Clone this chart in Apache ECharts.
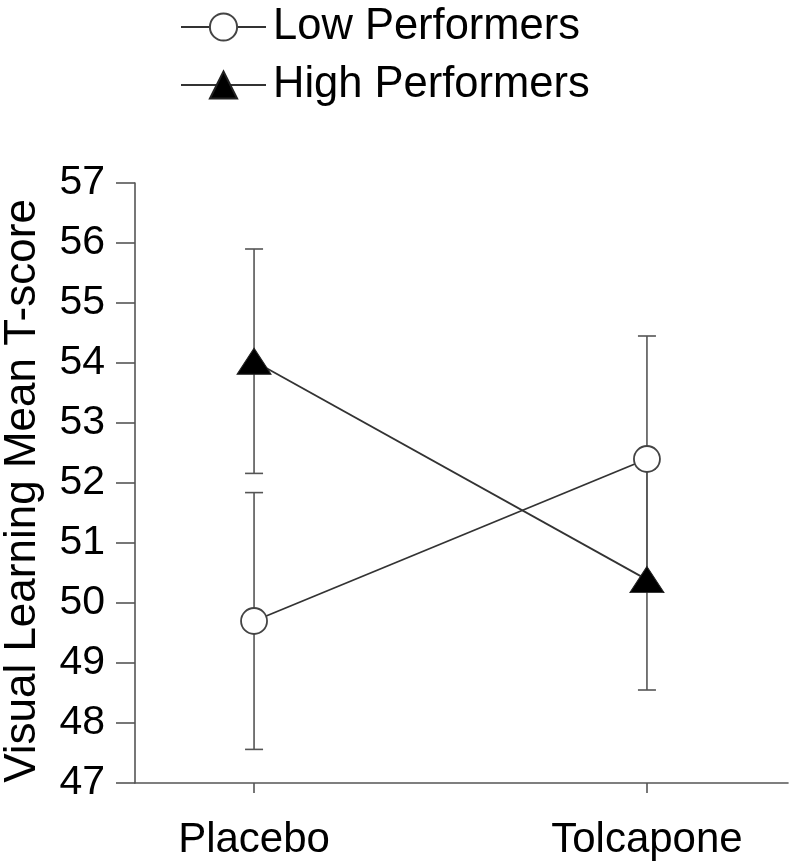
<!DOCTYPE html>
<html>
<head>
<meta charset="utf-8">
<script src="https://cdn.jsdelivr.net/npm/echarts@6/dist/echarts.min.js"></script>
<style>
  html, body { margin: 0; padding: 0; background: #fff; }
  #chart { width: 791px; height: 861px; }
</style>
</head>
<body>
<div id="chart"></div>
<script>
// data
const categories = ["Placebo", "Tolcapone"];
const seriesNames = ["Low Performers", "High Performers"];
const lowMean = [49.7, 52.4];
const lowErr = [2.14, 2.05];
const highMean = [54.03, 50.39];
const highErr = [1.87, 1.84];
const yMin = 47;
const yMax = 57;

const font = "Liberation Sans, Arial, Helvetica, sans-serif";

const chart = echarts.init(document.getElementById("chart"));

// [x index, mean, err] rows for the error bars
function errRows(mean, err) {
  return mean.map((m, i) => [i, m, err[i]]);
}

function renderErr(params, api) {
  const x = api.value(0);
  const m = api.value(1);
  const e = api.value(2);
  const top = api.coord([x, m + e]);
  const bot = api.coord([x, m - e]);
  const cap = 9;
  const style = { stroke: "#555", lineWidth: 1.6 };
  return {
    type: "group",
    children: [
      { type: "line", shape: { x1: top[0], y1: top[1], x2: bot[0], y2: bot[1] }, style: style },
      { type: "line", shape: { x1: top[0] - cap, y1: top[1], x2: top[0] + cap, y2: top[1] }, style: style },
      { type: "line", shape: { x1: bot[0] - cap, y1: bot[1], x2: bot[0] + cap, y2: bot[1] }, style: style },
    ],
  };
}

const option = {
  animation: false,
  backgroundColor: "#fff",
  textStyle: { fontFamily: font },
  legend: {
    orient: "vertical",
    left: 175,
    top: 0,
    itemWidth: 85,
    itemHeight: 34,
    itemGap: 14,
    data: seriesNames,
    textStyle: {
      fontSize: 43.5,
      color: "#000",
      fontFamily: font,
      padding: [0, 0, 0, 2],
    },
  },
  grid: {
    left: 135,
    right: 3,
    top: 183,
    bottom: 78,
    outerBoundsMode: "none",
  },
  xAxis: {
    type: "value",
    min: -0.303,
    max: 1.359,
    splitLine: { show: false },
    axisLine: { show: true, onZero: false, lineStyle: { color: "#555", width: 1.6 } },
    axisTick: {
      show: true,
      customValues: [0, 1],
      length: 10,
      lineStyle: { color: "#555", width: 1.6 },
    },
    axisLabel: {
      customValues: [0, 1],
      margin: 36,
      fontSize: 42,
      color: "#000",
      fontFamily: font,
      formatter: (v) => categories[Math.round(v)],
    },
  },
  yAxis: {
    type: "value",
    min: yMin,
    max: yMax,
    interval: 1,
    name: "Visual Learning Mean T-score",
    nameLocation: "middle",
    nameGap: 90,
    nameTextStyle: {
      fontSize: 44,
      color: "#000",
      fontFamily: font,
      padding: [0, 16, 0, 0],
    },
    splitLine: { show: false },
    axisLine: { show: true, onZero: false, lineStyle: { color: "#555", width: 1.6 } },
    axisTick: { show: true, length: 19, lineStyle: { color: "#555", width: 1.6 } },
    axisLabel: { margin: 30, fontSize: 41, color: "#000", fontFamily: font },
  },
  series: [
    {
      type: "custom",
      name: "lowErr",
      renderItem: renderErr,
      data: errRows(lowMean, lowErr),
      z: 1,
      silent: true,
    },
    {
      type: "custom",
      name: "highErr",
      renderItem: renderErr,
      data: errRows(highMean, highErr),
      z: 1,
      silent: true,
    },
    {
      name: seriesNames[0],
      type: "line",
      data: lowMean.map((v, i) => [i, v]),
      symbol: "circle",
      symbolSize: 26,
      lineStyle: { color: "#333", width: 1.8 },
      itemStyle: { color: "#fff", borderColor: "#444", borderWidth: 1.8 },
      z: 3,
    },
    {
      name: seriesNames[1],
      type: "line",
      data: highMean.map((v, i) => [i, v]),
      symbol: "triangle",
      symbolSize: [34, 26],
      lineStyle: { color: "#333", width: 1.8 },
      itemStyle: { color: "#000", borderColor: "#222", borderWidth: 1 },
      z: 3,
    },
  ],
};

chart.setOption(option);
window.onresize = chart.resize;
</script>
</body>
</html>
